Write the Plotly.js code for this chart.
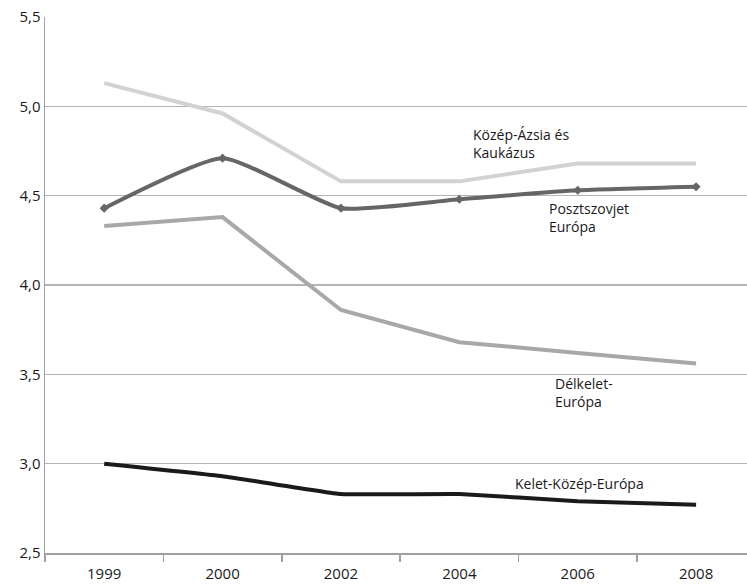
<!DOCTYPE html>
<html><head><meta charset="utf-8">
<script src="https://cdn.plot.ly/plotly-3.0.1.min.js"></script>
<style>body{margin:0;background:#fff}#c{width:747px;height:585px}</style>
</head><body><div id="c"></div>
<script>
const years = ['1999','2000','2002','2004','2006','2008'];
const kozepAzsia = [5.13, 4.96, 4.58, 4.58, 4.68, 4.68];
const posztszovjet = [4.43, 4.71, 4.43, 4.48, 4.53, 4.55];
const delkelet = [4.33, 4.38, 3.86, 3.68, 3.62, 3.56];
const keletKozep = [3.00, 2.93, 2.83, 2.83, 2.79, 2.77];
const labels = ['Közép-Ázsia és<br>Kaukázus', 'Posztszovjet<br>Európa', 'Délkelet-<br>Európa', 'Kelet-Közép-Európa'];

const font = 'Open Sans, DejaVu Sans, sans-serif';
const traces = [
  {x: years, y: kozepAzsia, mode: 'lines', line: {color: '#d2d2d2', width: 4}},
  {x: years, y: delkelet, mode: 'lines', line: {color: '#a8a8a8', width: 4}},
  {x: years, y: keletKozep, mode: 'lines', line: {color: '#1a1a1a', width: 4, shape: 'spline', smoothing: 0.3}},
  {x: years, y: posztszovjet, mode: 'lines+markers', line: {color: '#666666', width: 4, shape: 'spline', smoothing: 0.5},
   marker: {symbol: 'diamond', size: 7, color: '#666666'}}
];
const layout = {
  width: 747, height: 585,
  margin: {l: 45, r: 0, t: 17, b: 32},
  showlegend: false,
  paper_bgcolor: '#fff', plot_bgcolor: '#fff',
  separators: ', ',
  font: {family: font, size: 15, color: '#1a1a1a'},
  xaxis: {type: 'category', range: [-0.5, 5.43], showgrid: false, showline: true, linecolor: '#a0a0a0', linewidth: 1.5,
    ticks: 'outside', tickson: 'boundaries', ticklen: 7, tickcolor: '#a0a0a0', tickwidth: 1.5, ticklabelstandoff: 6,
    tickfont: {family: font, size: 15, color: '#1a1a1a'}, zeroline: false},
  yaxis: {range: [2.5, 5.5], dtick: 0.5, tick0: 2.5, tickformat: '.1f', showgrid: true, gridcolor: '#b4b4b4', gridwidth: 1.2,
    showline: true, linecolor: '#a0a0a0', linewidth: 1.5, ticks: '', zeroline: false,
    tickfont: {family: font, size: 15, color: '#1a1a1a'}},
  annotations: [
    {x: 3.1, y: 4.79, text: labels[0], xanchor: 'left', yanchor: 'middle', align: 'left', showarrow: false, font: {family: font, size: 14, color: '#1a1a1a'}},
    {x: 3.74, y: 4.38, text: labels[1], xanchor: 'left', yanchor: 'middle', align: 'left', showarrow: false, font: {family: font, size: 14, color: '#1a1a1a'}},
    {x: 3.79, y: 3.40, text: labels[2], xanchor: 'left', yanchor: 'middle', align: 'left', showarrow: false, font: {family: font, size: 14, color: '#1a1a1a'}},
    {x: 3.45, y: 2.89, text: labels[3], xanchor: 'left', yanchor: 'middle', align: 'left', showarrow: false, font: {family: font, size: 14, color: '#1a1a1a'}}
  ]
};
Plotly.newPlot('c', traces, layout, {staticPlot: true});
</script></body></html>
